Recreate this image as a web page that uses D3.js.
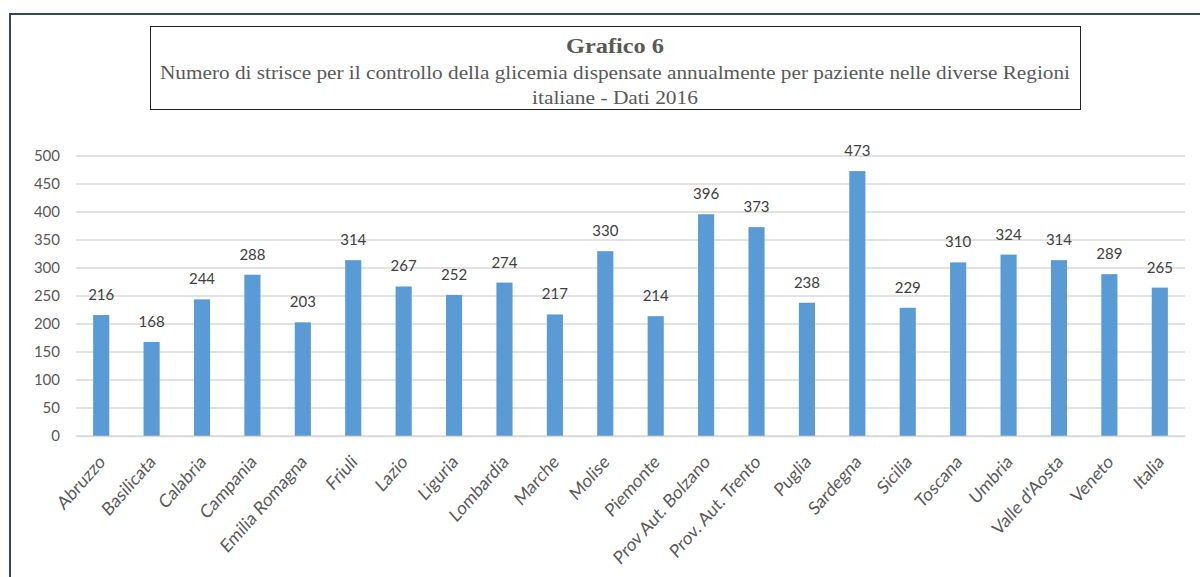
<!DOCTYPE html>
<html>
<head>
	<meta charset="utf-8">
	<title>Grafico 6</title>
	<script type="text/javascript" src="https://cdn.jsdelivr.net/npm/d3@7"></script>
	<style type="text/css">
		body { margin: 0; background: #fff; }
		.tick text { font-family: Lato, "Open Sans", sans-serif; font-size: 15px; fill: #595959; }
		.xlab .tick text { font-size: 16.5px; }
		.val { font-family: Lato, "Open Sans", sans-serif; font-size: 15px; fill: #404040; }
		.ttl { font-family: "Liberation Serif", "Times New Roman", serif; fill: #595959; }
	</style>
</head>
<body>
	<div id="svgdiv"></div>
	<script type="text/javascript">
		// dati
		var regioni = ["Abruzzo", "Basilicata", "Calabria", "Campania", "Emilia Romagna", "Friuli",
			"Lazio", "Liguria", "Lombardia", "Marche", "Molise", "Piemonte", "Prov Aut. Bolzano",
			"Prov. Aut. Trento", "Puglia", "Sardegna", "Sicilia", "Toscana", "Umbria",
			"Valle d'Aosta", "Veneto", "Italia"];
		var strisce = [216, 168, 244, 288, 203, 314, 267, 252, 274, 217, 330, 214, 396, 373,
			238, 473, 229, 310, 324, 314, 289, 265];
		var yTicks = [0, 50, 100, 150, 200, 250, 300, 350, 400, 450, 500];
		var titolo = "Grafico 6";
		var sottotitolo = ["Numero di strisce per il controllo della glicemia dispensate annualmente per paziente nelle diverse Regioni",
			"italiane - Dati 2016"];

		var w = 1200, h = 577;
		// (niente "top": è già window.top)
		var pLeft = 76, pRight = 1185, pTop = 156, pBottom = 436;

		var svg = d3.select("#svgdiv").append("svg")
			.attr("width", w).attr("height", h);

		// cornice esterna
		svg.append("rect")
			.attr("x", 10).attr("y", 14)
			.attr("width", w + 20).attr("height", h)
			.attr("fill", "none")
			.attr("stroke", "#3c4653")
			.attr("stroke-width", 2);

		// riquadro del titolo
		svg.append("rect")
			.attr("x", 150.5).attr("y", 26.5)
			.attr("width", 930).attr("height", 83)
			.attr("fill", "none")
			.attr("stroke", "#222")
			.attr("stroke-width", 1);

		svg.append("text")
			.attr("class", "ttl")
			.attr("x", 615).attr("y", 53)
			.attr("text-anchor", "middle")
			.attr("font-size", 22)
			.attr("font-weight", "bold")
			.attr("fill", "#404040")
			.attr("textLength", 98)
			.attr("lengthAdjust", "spacingAndGlyphs")
			.text(titolo);

		svg.selectAll(".sub")
			.data(sottotitolo)
			.enter()
			.append("text")
			.attr("class", "ttl sub")
			.attr("x", 615)
			.attr("y", function(d, i) { return 79 + i * 25; })
			.attr("text-anchor", "middle")
			.attr("font-size", 19)
			.attr("textLength", function(d, i) { return i == 0 ? 910 : 166; })
			.attr("lengthAdjust", "spacingAndGlyphs")
			.text(function(d) { return d; });

		var xscale = d3.scaleBand()
			.domain(regioni)
			.range([pLeft, pRight])
			.paddingInner(0.68)
			.paddingOuter(0.34);

		var yscale = d3.scaleLinear()
			.domain([0, 500])
			.range([pBottom, pTop]);

		// griglia
		svg.append("g")
			.selectAll("line")
			.data(yTicks)
			.enter()
			.append("line")
			.attr("x1", pLeft).attr("x2", pRight)
			.attr("y1", function(d) { return yscale(d); })
			.attr("y2", function(d) { return yscale(d); })
			.attr("stroke", "#d9d9d9")
			.attr("stroke-width", 1.5);

		// asse y
		var yAxis = svg.append("g")
			.attr("transform", "translate(" + (pLeft - 16) + ",0)")
			.call(d3.axisLeft(yscale).tickValues(yTicks).tickSize(0).tickPadding(0));
		yAxis.select(".domain").remove();

		// barre
		svg.append("g")
			.selectAll("rect")
			.data(strisce)
			.enter()
			.append("rect")
			.attr("x", function(d, i) { return xscale(regioni[i]); })
			.attr("y", function(d) { return yscale(d); })
			.attr("width", xscale.bandwidth())
			.attr("height", function(d) { return pBottom - yscale(d); })
			.attr("fill", "#5b9bd5");

		// etichette dei valori
		svg.append("g")
			.selectAll("text")
			.data(strisce)
			.enter()
			.append("text")
			.attr("class", "val")
			.attr("x", function(d, i) { return xscale(regioni[i]) + xscale.bandwidth() / 2; })
			.attr("y", function(d) { return yscale(d) - 15; })
			.attr("text-anchor", "middle")
			.text(function(d) { return d; });

		// asse x (l'immagine originale è un po' schiacciata in orizzontale)
		var xAxis = svg.append("g")
			.attr("class", "xlab")
			.attr("transform", "translate(0," + pBottom + ")")
			.call(d3.axisBottom(xscale).tickSize(0).tickPadding(0));
		xAxis.select(".domain")
			.attr("stroke", "#d9d9d9")
			.attr("stroke-width", 1.5);
		xAxis.selectAll(".tick text")
			.attr("text-anchor", "end")
			.attr("dy", 0)
			.attr("transform", "translate(5,27) scale(1,1.13) rotate(-45)");
	</script>
</body>
</html>
